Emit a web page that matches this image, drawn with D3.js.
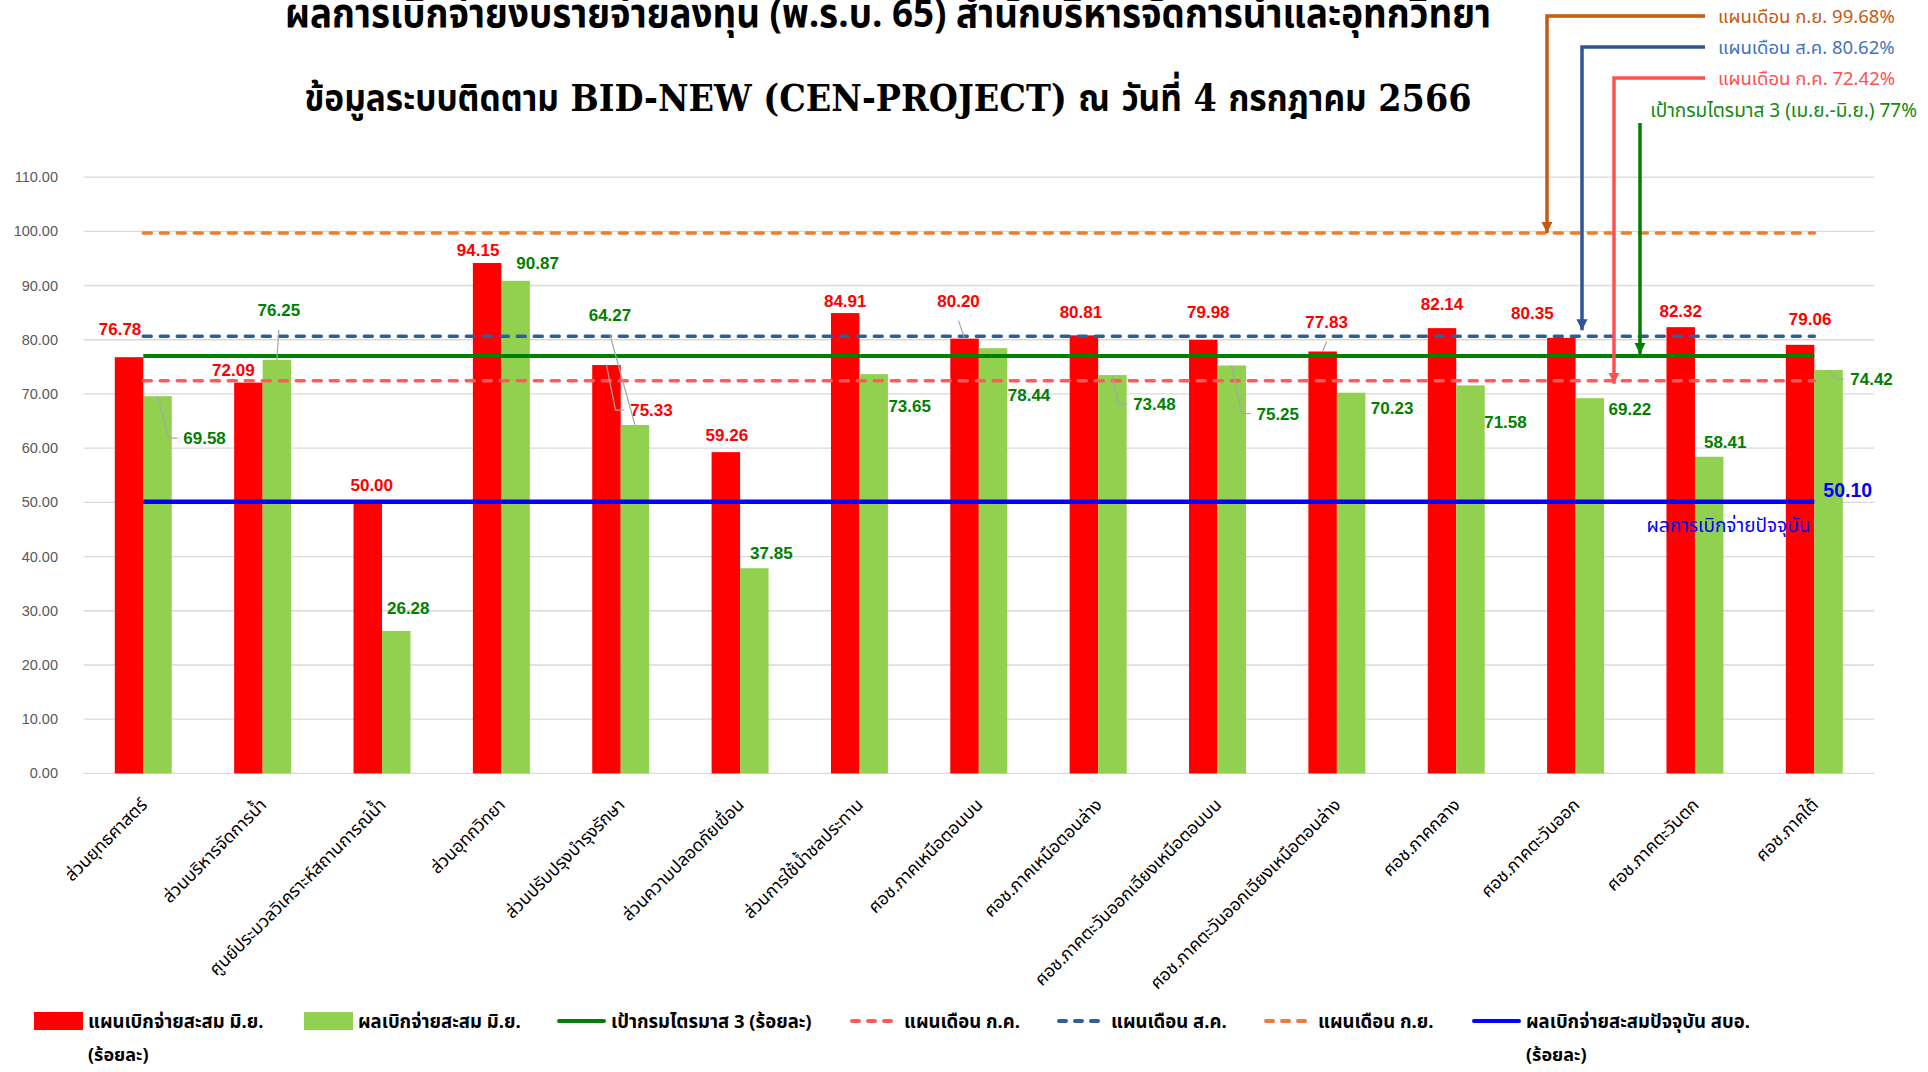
<!DOCTYPE html>
<html>
<head>
<meta charset="utf-8">
<script src="https://cdn.jsdelivr.net/npm/d3@7"></script>
<style>
  body { margin: 0; background: #fff; }
  svg { display: block; }
</style>
</head>
<body>
<svg id="chart" width="1928" height="1072"></svg>
<script>
// Categories (units) along the x axis
var categories = [
  "ส่วนยุทธศาสตร์",
  "ส่วนบริหารจัดการน้ำ",
  "ศูนย์ประมวลวิเคราะห์สถานการณ์น้ำ",
  "ส่วนอุทกวิทยา",
  "ส่วนปรับปรุงบำรุงรักษา",
  "ส่วนความปลอดภัยเขื่อน",
  "ส่วนการใช้น้ำชลประทาน",
  "ศอช.ภาคเหนือตอนบน",
  "ศอช.ภาคเหนือตอนล่าง",
  "ศอช.ภาคตะวันออกเฉียงเหนือตอนบน",
  "ศอช.ภาคตะวันออกเฉียงเหนือตอนล่าง",
  "ศอช.ภาคกลาง",
  "ศอช.ภาคตะวันออก",
  "ศอช.ภาคตะวันตก",
  "ศอช.ภาคใต้"
];

// Cumulative plan and actual disbursement to June (percent)
var planJun   = [76.78, 72.09, 50.00, 94.15, 75.33, 59.26, 84.91, 80.20, 80.81, 79.98, 77.83, 82.14, 80.35, 82.32, 79.06];
var actualJun = [69.58, 76.25, 26.28, 90.87, 64.27, 37.85, 73.65, 78.44, 73.48, 75.25, 70.23, 71.58, 69.22, 58.41, 74.42];

// Reference levels (percent)
var targetQ3 = 77;
var planJul = 72.42;
var planAug = 80.62;
var planSep = 99.68;
var currentActual = 50.10;

var yTicks = [0, 10, 20, 30, 40, 50, 60, 70, 80, 90, 100, 110];

// Where each data label sits relative to the top of its bar (px), and its leader line
var planLabelOffset = [[-9,-28],[-15,-13],[4,-17],[-9,-13],[45,45],[1,-17],[0,-12],[-6,-38],[-3,-23],[5,-28],[4,-30],[0,-24],[-29,-25],[0,-16],[10,-26]];
var actualLabelOffset = [[47,42],[2,-50],[12,-23],[22,-18],[-25,-110],[17,-15],[36,32],[36,47],[42,29],[46,48],[41,15],[35,37],[40,11],[16,-15],[43,9]];
var planLeader = {4: "side", 7: "top", 10: "top"};
var actualLeader = {0: "side", 1: "top", 4: "top", 8: "side", 9: "side", 14: "side"};

var thaiFont = "'Noto Sans Thai', 'Leelawadee UI', Tahoma, 'Noto Sans', sans-serif";
var numFont = "'Liberation Sans', Arial, sans-serif";

var svg = d3.select("svg#chart");

var left = 83.6, right = 1874;
var y = d3.scaleLinear().domain([0, 110]).range([773.4, 177.1]);
var x0 = d3.scaleBand().domain(categories).range([left, right]).padding(0);
var x1 = d3.scaleBand().domain(["plan", "actual"]).range([0, x0.bandwidth()]).paddingInner(0).paddingOuter(1.095);

// Title
svg.append("text")
  .attr("x", 888).attr("y", 27)
  .attr("text-anchor", "middle")
  .attr("font-family", thaiFont)
  .attr("font-weight", "bold")
  .attr("font-size", 40)
  .attr("textLength", 1206).attr("lengthAdjust", "spacingAndGlyphs")
  .text("ผลการเบิกจ่ายงบรายจ่ายลงทุน (พ.ร.บ. 65) สำนักบริหารจัดการน้ำและอุทกวิทยา");

svg.append("text")
  .attr("x", 888).attr("y", 111)
  .attr("text-anchor", "middle")
  .attr("font-family", "'DejaVu Serif', " + thaiFont)
  .attr("font-weight", "bold")
  .attr("font-size", 38)
  .attr("textLength", 1167).attr("lengthAdjust", "spacingAndGlyphs")
  .text("ข้อมูลระบบติดตาม BID-NEW (CEN-PROJECT) ณ วันที่ 4 กรกฎาคม 2566");

// Gridlines and y axis labels
svg.selectAll("line.grid")
  .data(yTicks)
  .enter().append("line")
  .attr("class", "grid")
  .attr("x1", left).attr("x2", right)
  .attr("y1", d => y(d)).attr("y2", d => y(d))
  .attr("stroke", "#d9d9d9")
  .attr("stroke-width", 1.3);

svg.selectAll("text.ytick")
  .data(yTicks)
  .enter().append("text")
  .attr("class", "ytick")
  .attr("x", 58)
  .attr("y", d => y(d))
  .attr("dy", "0.35em")
  .attr("text-anchor", "end")
  .attr("font-family", numFont)
  .attr("font-size", 14.5)
  .attr("fill", "#595959")
  .text(d => d3.format(".2f")(d));

// Bars
var groups = svg.selectAll("g.cat")
  .data(categories)
  .enter().append("g")
  .attr("class", "cat")
  .attr("transform", d => "translate(" + x0(d) + ",0)");

groups.append("rect")
  .attr("x", x1("plan"))
  .attr("y", (d, i) => y(planJun[i]))
  .attr("width", x1.bandwidth())
  .attr("height", (d, i) => y(0) - y(planJun[i]))
  .attr("fill", "#ff0000");

groups.append("rect")
  .attr("x", x1("actual"))
  .attr("y", (d, i) => y(actualJun[i]))
  .attr("width", x1.bandwidth())
  .attr("height", (d, i) => y(0) - y(actualJun[i]))
  .attr("fill", "#92d050");

// Category labels, rotated
svg.selectAll("text.cat")
  .data(categories)
  .enter().append("text")
  .attr("class", "cat")
  .attr("transform", d => "translate(" + (x0(d) + x0.bandwidth() / 2 + 5) + ",806) rotate(-45)")
  .attr("text-anchor", "end")
  .attr("font-family", thaiFont)
  .attr("font-size", 17.5)
  .attr("fill", "#000")
  .text(d => d);

// Reference lines across the chart
var lineStart = x0(categories[0]) + x0.bandwidth() / 2;
var lineEnd = x0(categories[categories.length - 1]) + x0.bandwidth() / 2;

var refLines = [
  {v: planSep, color: "#ed7d31", dash: "8,9", w: 3.5},
  {v: planAug, color: "#2e5f96", dash: "8,9", w: 3.5},
  {v: targetQ3, color: "#008000", dash: null, w: 4},
  {v: planJul, color: "#ff5b5b", dash: "8,9", w: 3.5},
  {v: currentActual, color: "#0000ff", dash: null, w: 4.5}
];

svg.selectAll("line.ref")
  .data(refLines)
  .enter().append("line")
  .attr("class", "ref")
  .attr("x1", lineStart).attr("x2", lineEnd)
  .attr("y1", d => y(d.v)).attr("y2", d => y(d.v))
  .attr("stroke", d => d.color)
  .attr("stroke-width", d => d.w)
  .attr("stroke-dasharray", d => d.dash)
  .attr("stroke-linecap", d => d.dash ? "round" : "butt");

// Data labels with leader lines
function barX(i, key) { return x0(categories[i]) + x1(key) + x1.bandwidth() / 2; }

function drawLabels(values, key, offsets, leaders, color) {
  values.forEach(function(v, i) {
    var bx = barX(i, key), by = y(v);
    var lx = bx + offsets[i][0], ly = by + offsets[i][1];
    var kind = leaders[i];
    if (kind === "side") {
      var leftEdge = lx - 21;
      svg.append("path")
        .attr("d", "M" + bx + "," + by + "L" + (leftEdge - 15) + "," + ly + "H" + (leftEdge - 6))
        .attr("fill", "none").attr("stroke", "#a6a6a6").attr("stroke-width", 1.2);
    } else if (kind === "top") {
      svg.append("path")
        .attr("d", "M" + lx + "," + (ly + 20) + "L" + bx + "," + by)
        .attr("fill", "none").attr("stroke", "#a6a6a6").attr("stroke-width", 1.2);
    }
    svg.append("text")
      .attr("x", lx).attr("y", ly)
      .attr("dy", "0.36em")
      .attr("text-anchor", "middle")
      .attr("font-family", numFont)
      .attr("font-weight", "bold")
      .attr("font-size", 17)
      .attr("fill", color)
      .text(d3.format(".2f")(v));
  });
}

drawLabels(planJun, "plan", planLabelOffset, planLeader, "#ff0000");
drawLabels(actualJun, "actual", actualLabelOffset, actualLeader, "#008000");

// Current actual label
svg.append("text")
  .attr("x", lineEnd + 9).attr("y", y(currentActual) - 12)
  .attr("dy", "0.36em")
  .attr("font-family", numFont)
  .attr("font-weight", "bold")
  .attr("font-size", 19.5)
  .attr("fill", "#0000ff")
  .text(d3.format(".2f")(currentActual));

svg.append("text")
  .attr("x", lineEnd - 4).attr("y", y(currentActual) + 23)
  .attr("dy", "0.36em")
  .attr("text-anchor", "end")
  .attr("font-family", thaiFont)
  .attr("font-size", 19)
  .attr("fill", "#0000ff")
  .text("ผลการเบิกจ่ายปัจจุบัน");

// Callouts at top right
var defs = svg.append("defs");
function arrow(id, color) {
  defs.append("marker")
    .attr("id", id)
    .attr("viewBox", "0 0 10 10")
    .attr("refX", 10).attr("refY", 5)
    .attr("markerWidth", 3.2).attr("markerHeight", 3.2)
    .attr("markerUnits", "strokeWidth")
    .attr("orient", "auto")
    .append("path")
    .attr("d", "M0,0L10,5L0,10Z")
    .attr("fill", color);
}

var callouts = [
  {text: "แผนเดือน ก.ย. " + planSep + "%", v: planSep, ty: 16, color: "#c55a11", tcolor: "#c55a11", vx: 1547, tip: 0},
  {text: "แผนเดือน ส.ค. " + planAug + "%", v: planAug, ty: 47, color: "#2f5597", tcolor: "#3f74c0", vx: 1582, tip: -6},
  {text: "แผนเดือน ก.ค. " + planJul + "%", v: planJul, ty: 78, color: "#ff5050", tcolor: "#ff5050", vx: 1614, tip: 3}
];

callouts.forEach(function(c, i) {
  arrow("arr" + i, c.color);
  svg.append("path")
    .attr("d", "M1705," + c.ty + "H" + c.vx + "V" + (y(c.v) + c.tip))
    .attr("fill", "none")
    .attr("stroke", c.color)
    .attr("stroke-width", 3.5)
    .attr("marker-end", "url(#arr" + i + ")");
  svg.append("text")
    .attr("x", 1718).attr("y", c.ty)
    .attr("dy", "0.36em")
    .attr("font-family", thaiFont)
    .attr("font-size", 18.5)
    .attr("fill", c.tcolor)
    .text(c.text);
});

arrow("arrG", "#008000");
svg.append("path")
  .attr("d", "M1640,123V" + (y(targetQ3) - 2))
  .attr("fill", "none")
  .attr("stroke", "#008000")
  .attr("stroke-width", 3.5)
  .attr("marker-end", "url(#arrG)");
svg.append("text")
  .attr("x", 1917).attr("y", 110)
  .attr("dy", "0.36em")
  .attr("text-anchor", "end")
  .attr("font-family", thaiFont)
  .attr("font-size", 19)
  .attr("fill", "#108a10")
  .text("เป้ากรมไตรมาส 3 (เม.ย.-มิ.ย.) " + targetQ3 + "%");

// Legend
var legendItems = [
  {label: "แผนเบิกจ่ายสะสม มิ.ย.", line2: "(ร้อยละ)", type: "rect", color: "#ff0000", x: 34},
  {label: "ผลเบิกจ่ายสะสม มิ.ย.", type: "rect", color: "#92d050", x: 304},
  {label: "เป้ากรมไตรมาส 3 (ร้อยละ)", type: "line", color: "#008000", x: 557},
  {label: "แผนเดือน ก.ค.", type: "dash", color: "#ff5b5b", x: 850},
  {label: "แผนเดือน ส.ค.", type: "dash", color: "#2e5f96", x: 1057},
  {label: "แผนเดือน ก.ย.", type: "dash", color: "#ed7d31", x: 1264},
  {label: "ผลเบิกจ่ายสะสมปัจจุบัน สบอ.", line2: "(ร้อยละ)", type: "line", color: "#0000ff", x: 1472}
];

var legY = 1021;
var leg = svg.selectAll("g.leg")
  .data(legendItems)
  .enter().append("g")
  .attr("class", "leg")
  .attr("transform", d => "translate(" + d.x + "," + legY + ")");

leg.filter(d => d.type === "rect").append("rect")
  .attr("x", 0).attr("y", -9)
  .attr("width", 49).attr("height", 18)
  .attr("fill", d => d.color);

leg.filter(d => d.type !== "rect").append("line")
  .attr("x1", 2).attr("x2", 47)
  .attr("y1", 0).attr("y2", 0)
  .attr("stroke", d => d.color)
  .attr("stroke-width", 4)
  .attr("stroke-linecap", "round")
  .attr("stroke-dasharray", d => d.type === "dash" ? "7,9" : null);

leg.append("text")
  .attr("x", 54).attr("y", 0)
  .attr("dy", "0.36em")
  .attr("font-family", thaiFont)
  .attr("font-weight", "bold")
  .attr("font-size", 18.5)
  .attr("fill", "#000")
  .text(d => d.label);

leg.filter(d => d.line2).append("text")
  .attr("x", 54).attr("y", 34)
  .attr("dy", "0.36em")
  .attr("font-family", thaiFont)
  .attr("font-weight", "bold")
  .attr("font-size", 18)
  .attr("fill", "#000")
  .text(d => d.line2);
</script>
</body>
</html>
